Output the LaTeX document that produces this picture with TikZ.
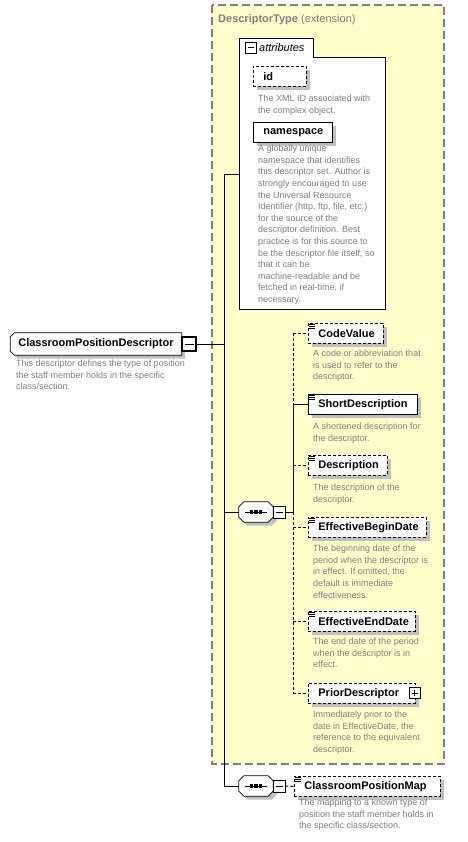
\documentclass[tikz,border=0pt]{standalone}
\usepackage{fontspec}
\setmainfont{Liberation Sans}
\usetikzlibrary{shadows}
\definecolor{extfill}{RGB}{255,255,204}
\definecolor{extline}{RGB}{128,128,128}
\definecolor{desccol}{RGB}{128,128,128}
\definecolor{shadowcol}{RGB}{192,192,192}
\pgfdeclarelayer{extlayer}
\pgfdeclarelayer{shapelayer}
\pgfsetlayers{extlayer,shapelayer,main}
\newcommand{\chamferpath}[4]{% #1 node, #2 left chamfer, #3 right chamfer, #4 shift
  ([shift={(#4+#2,#4)}]#1.north west) -- ([shift={(#4-#3,#4)}]#1.north east)
  -- ([shift={(#4,#4+#3)}]#1.north east) -- ([shift={(#4,#4-#3)}]#1.south east)
  -- ([shift={(#4-#3,#4)}]#1.south east) -- ([shift={(#4+#2,#4)}]#1.south west)
  -- ([shift={(#4,#4-#2)}]#1.south west) -- ([shift={(#4,#4+#2)}]#1.north west) -- cycle}
\newcommand{\chamferbox}[3]{%
  \begin{pgfonlayer}{shapelayer}
    \fill[shadowcol] \chamferpath{#1}{#2}{#3}{3.5};
    \draw[black, line width=0.8pt, fill=white] \chamferpath{#1}{#2}{#3}{0};
  \end{pgfonlayer}}
\begin{document}
\begin{tikzpicture}[x=1pt,y=-1pt,
  shad/.style={general shadow={fill=shadowcol, shadow xshift=3.5pt, shadow yshift=-3.5pt}},
  elembox/.style={draw=black, fill=white, line width=0.8pt, inner xsep=10pt, inner ysep=0pt,
    minimum height=20pt, align=left, font=\fontsize{11}{13}\selectfont\bfseries, anchor=north west, shad},
  optbox/.style={elembox, dash pattern=on 3pt off 2pt},
  desc/.style={anchor=north west, inner sep=0pt, align=left, text=desccol,
    font=\fontsize{9}{11.6}\selectfont, execute at begin node={\rule{0pt}{7pt}}},
  rootbox/.style={rectangle, minimum width=171pt, minimum height=22pt,
    inner xsep=4pt, inner ysep=0pt, font=\fontsize{11}{13}\selectfont\bfseries},
  seqbox/.style={rectangle, minimum width=34pt, minimum height=20pt, inner sep=0pt},
  minusbox/.style={draw=black, fill=white, line width=0.9pt, minimum size=12pt, inner sep=0pt,
    path picture={\draw[line width=0.8pt] ([xshift=2.5pt]path picture bounding box.west) -- ([xshift=-2.5pt]path picture bounding box.east);}},
  plusbox/.style={minusbox,
    path picture={\draw[line width=0.8pt] ([xshift=2.5pt]path picture bounding box.west) -- ([xshift=-2.5pt]path picture bounding box.east);
      \draw[line width=0.8pt] ([yshift=-2.5pt]path picture bounding box.north) -- ([yshift=2.5pt]path picture bounding box.south);}},
  conn/.style={draw=black, line width=1pt},
  optconn/.style={conn, dash pattern=on 3pt off 2pt},
  iconline/.style={draw=black, line width=0.6pt},
  seqline/.style={draw=black, line width=0.9pt},
  seqdot/.style={fill=black}
]
\useasboundingbox (0,0) rectangle (467,842);

% extension box
\begin{pgfonlayer}{extlayer}
\draw[extline, dash pattern=on 8pt off 4pt, line width=1.2pt, fill=extfill] (212,5) rectangle (444,764);
% attributes box
\draw[fill=white, line width=0.8pt] (239,309) -- (239,38) -- (313,38) -- (313,57) -- (385,57) -- (385,309) -- cycle;
\end{pgfonlayer}
\node[anchor=west, inner sep=0pt, text=desccol, font=\fontsize{11}{13}\selectfont] (exthead) at (218,19.5)
  {\textbf{DescriptorType} (extension)};
\node[minusbox, minimum size=11pt] (attrm) at (250.5,47.5) {};
\node[anchor=west, inner sep=0pt, font=\fontsize{11}{13}\selectfont\itshape] (attrlbl) at (259,47.5) {attributes};
\coordinate (attrL) at (239,174.5);

\node[optbox, text width=33pt] (id) at (253,66) {id};
\node[desc] (iddesc) at (258,95) {The XML ID associated with\\the complex object.};
\node[elembox, text width=59pt] (ns) at (253,122) {namespace};
\node[desc] (nsdesc) at (258,145) {A globally unique\\namespace that identifies\\this descriptor set. Author is\\strongly encouraged to use\\the Universal Resource\\Identifier (http, ftp, file, etc.)\\for the source of the\\descriptor definition. Best\\practice is for this source to\\be the descriptor file itself, so\\that it can be\\machine-readable and be\\fetched in real-time, if\\necessary.};

% root
\node[rootbox] (root) at (96,344) {ClassroomPositionDescriptor};
\chamferbox{root}{4}{0}
\node[minusbox, minimum size=14pt, line width=1.2pt] (rootm) at (189,344) {};
\node[desc] (rootdesc) at (16,360) {This descriptor defines the type of position\\the staff member holds in the specific\\class/section.};

% spine coordinates
\coordinate (sTop) at (224.5,174.5);
\coordinate (sRoot) at (224.5,344);
\coordinate (sSeq) at (224.5,512);
\coordinate (sBot) at (224.5,786);
\coordinate (bx) at (293,0);

% sequences
\foreach \s/\yy in {seq1/512, seq2/786}{
  \node[seqbox] (\s) at (256,\yy) {};
  \chamferbox{\s}{5}{5}
  \draw[seqline] ([xshift=6pt]\s.west) -- ([xshift=-6pt]\s.east);
  \foreach \dx in {-4.5,0,4.5}
    \fill[seqdot] ([xshift=\dx pt]\s.center) +(-1.6,-1.6) rectangle +(1.6,1.6);
  \node[minusbox] (\s m) at (279,\yy) {};
}

% elements
\node[optbox, text width=55pt] (cv) at (308,323) {CodeValue};
\node[desc] (cvdesc) at (313,350) {A code or abbreviation that\\is used to refer to the\\descriptor.};
\node[elembox, text width=89pt] (sd) at (308,394) {ShortDescription};
\node[desc] (sddesc) at (313,423) {A shortened description for\\the descriptor.};
\node[optbox, text width=59pt] (de) at (308,455) {Description};
\node[desc] (dedesc) at (313,484) {The description of the\\descriptor.};
\node[optbox, text width=98pt] (eb) at (308,517) {EffectiveBeginDate};
\node[desc] (ebdesc) at (313,545) {The beginning date of the\\period when the descriptor is\\in effect. If omitted, the\\default is immediate\\effectiveness.};
\node[optbox, text width=87pt] (ee) at (308,611) {EffectiveEndDate};
\node[desc] (eedesc) at (313,638) {The end date of the period\\when the descriptor is in\\effect.};
\node[optbox, text width=87pt] (pd) at (308,683) {PriorDescriptor};
\node[plusbox, minimum size=11pt] (pdp) at (414.5,693) {};
\node[desc] (pddesc) at (313,711) {Immediately prior to the\\date in EffectiveDate, the\\reference to the equivalent\\descriptor.};
\node[optbox, text width=126pt] (cpm) at (294,776) {ClassroomPositionMap};
\node[desc] (cpmdesc) at (299,799) {The mapping to a known type of\\position the staff member holds in\\the specific class/section.};

% simple-content icons
\foreach \n in {cv,sd,de,eb,ee,cpm}{
  \foreach \k in {1.2,3.2,5.2}
    \draw[iconline] ([shift={(1,\k)}]\n.north west) -- ++(6,0);
}

% connectors
\draw[conn] (attrL) -- (sTop) -- (sBot) -- (seq2.west);
\draw[conn] (rootm.east) -- (sRoot);
\draw[conn] (sSeq) -- (seq1.west);
\draw[conn] (seq1m.east) -- (bx |- seq1m.east);
\draw[optconn] (bx |- cv.west) -- (bx |- sd.west);
\draw[conn] (bx |- sd.west) -- (bx |- seq1m.east);
\draw[optconn] (bx |- seq1m.east) -- (bx |- pd.west);
\draw[optconn] (bx |- cv.west) -- (cv.west);
\draw[conn] (bx |- sd.west) -- (sd.west);
\draw[optconn] (bx |- de.west) -- (de.west);
\draw[optconn] (bx |- eb.west) -- (eb.west);
\draw[optconn] (bx |- ee.west) -- (ee.west);
\draw[optconn] (bx |- pd.west) -- (pd.west);
\draw[optconn] (seq2m.east) -- (cpm.west);
\end{tikzpicture}
\end{document}
